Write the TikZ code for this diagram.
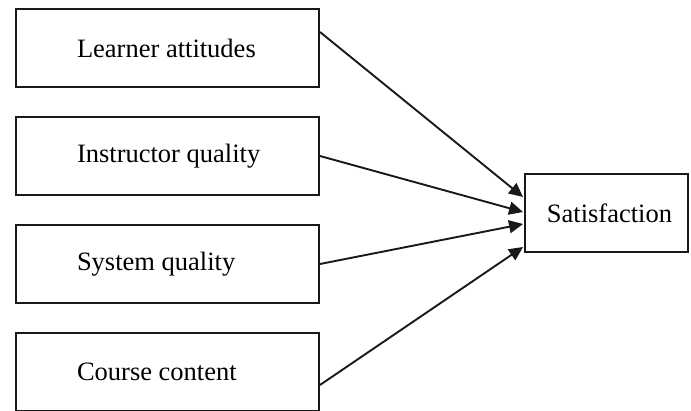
\documentclass[tikz,border=0pt]{standalone}
\usepackage{fontspec}
\setmainfont{Liberation Serif}
\usepackage{tikz}
\usetikzlibrary{positioning,arrows.meta}
\tikzset{every node/.style={font=\fontsize{26.5pt}{30pt}\selectfont}}
% left-set label inside the wide boxes
\newcommand{\boxtext}[1]{\makebox[181pt][l]{#1}}

\begin{document}
\begin{tikzpicture}[node distance=108pt, line width=1.9pt, draw=black!90,
  every node/.style={draw, rectangle, minimum width=303pt, minimum height=78pt, font=\fontsize{26.5pt}{30pt}\selectfont},
  link/.style={-{Triangle[length=14pt,width=13pt]}}]

\useasboundingbox (0,0) rectangle (691pt,-410pt);

\node (att) at (167.5pt,-48pt) {\boxtext{Learner attitudes}};
\node (instr) [below of=att] {\boxtext{Instructor quality}};
\node (sys) [below of=instr] {\boxtext{System quality}};
\node (course) [below of=sys] {\boxtext{Course content}};

\node (sat) [minimum width=163pt] at (606.5pt,-213pt) {\hspace{6pt}Satisfaction};

\draw[link] ([yshift=16pt]att.east) -- ([xshift=-1pt,yshift=16pt]sat.west);
\draw[link] (instr.east) -- ([xshift=-1pt,yshift=1pt]sat.west);
\draw[link] (sys.east) -- ([xshift=-1pt,yshift=-11pt]sat.west);
\draw[link] ([yshift=-13pt]course.east) -- ([xshift=-1pt,yshift=-34pt]sat.west);

\end{tikzpicture}
\end{document}
